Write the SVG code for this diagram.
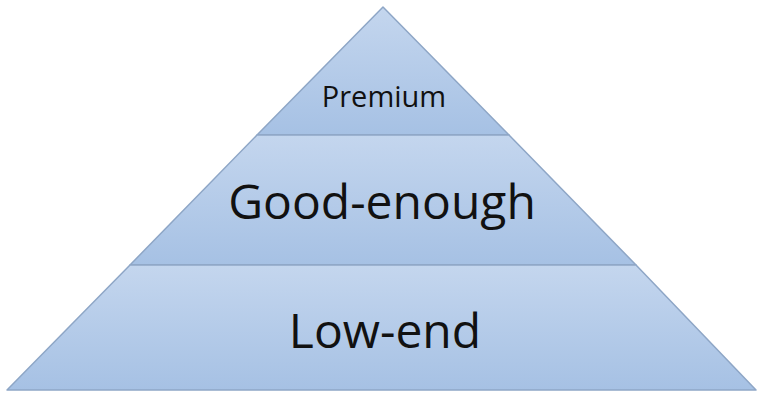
<svg xmlns="http://www.w3.org/2000/svg" width="757" height="394" viewBox="0 0 757 394">
<defs>
<linearGradient id="g" x1="0" y1="0" x2="0" y2="1">
<stop offset="0" stop-color="#c4d6ee"/>
<stop offset="1" stop-color="#a6c1e4"/>
</linearGradient>
<style>
.band{fill:url(#g);stroke:#8ea6c6;stroke-width:1.5;stroke-linejoin:round}
.t{font-family:"Open Sans","Liberation Sans",sans-serif;fill:#111;text-anchor:middle}
</style>
</defs>
<rect width="757" height="394" fill="#fff"/>
<g id="premium">
<polygon class="band" points="383,7 509,135 257,135"/>
<text class="t" x="384" y="107" font-size="29">Premium</text>
</g>
<g id="good-enough">
<polygon class="band" points="257,135 509,135 636,265 130,265"/>
<text class="t" x="382" y="219" font-size="48">Good-enough</text>
</g>
<g id="low-end">
<polygon class="band" points="130,265 636,265 756,390 7,390"/>
<text class="t" x="385" y="348" font-size="48">Low-end</text>
</g>
<g id="connectors"/>
</svg>
